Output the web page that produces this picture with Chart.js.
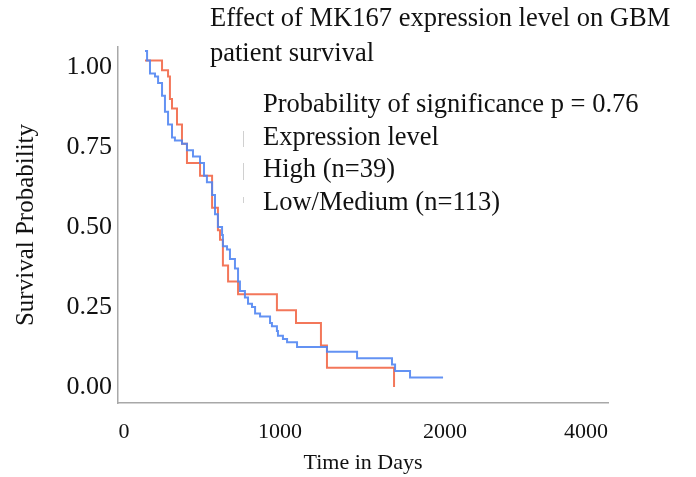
<!DOCTYPE html>
<html>
<head>
<meta charset="utf-8">
<script src="https://cdn.jsdelivr.net/npm/chart.js@4.4.1/dist/chart.umd.min.js"></script>
<style>
  body { margin: 0; background: #fff; }
  canvas { display: block; }
</style>
</head>
<body>
<canvas id="km-chart" width="696" height="477"></canvas>
<script>
// data (days, survival probability)
const highDays = [0, 99, 134, 145, 157, 186, 215, 244, 320, 390, 424, 436, 453, 483, 541, 767, 878, 1023, 1058, 1448];
const highSurv = [1.02, 0.99, 0.97, 0.90, 0.87, 0.82, 0.76, 0.70, 0.66, 0.56, 0.49, 0.46, 0.38, 0.33, 0.29, 0.24, 0.20, 0.13, 0.06, 0.00];

const lowDays = [0, 12, 29, 58, 76, 99, 116, 134, 157, 174, 215, 244, 279, 320, 343, 360, 390, 407, 424, 448,
  453, 477, 494, 523, 541, 552, 581, 599, 622, 640, 669, 727, 738, 767, 773, 802, 826, 884, 1058, 1233,
  1436, 1454, 1541, 1733];
const lowSurv = [1.05, 1.02, 0.98, 0.97, 0.95, 0.91, 0.86, 0.82, 0.78, 0.77, 0.76, 0.74, 0.72, 0.70, 0.66, 0.64, 0.60, 0.54, 0.50, 0.475,
  0.44, 0.43, 0.40, 0.37, 0.33, 0.30, 0.28, 0.26, 0.25, 0.23, 0.22, 0.20, 0.19, 0.175, 0.16, 0.15, 0.14, 0.125, 0.11, 0.09,
  0.07, 0.05, 0.03, 0.03];

const yTicks = [0, 0.25, 0.5, 0.75, 1.0];
const xTickLabels = ['0', '1000', '2000', '4000'];
const xTickAt = [-122, 785, 1744, 2564]; // where the printed labels sit, in days

const titleLines = ['Effect of MK167 expression level on GBM', 'patient survival'];
const legendLines = ['Probability of significance p = 0.76', 'Expression level', 'High (n=39)', 'Low/Medium (n=113)'];

const serif = '"Liberation Serif", "Times New Roman", serif';

function toPoints(xs, ys) {
  return xs.map((x, i) => ({ x: x, y: ys[i] }));
}

const textPlugin = {
  id: 'textBlock',
  afterDraw(chart) {
    const ctx = chart.ctx;
    ctx.save();
    ctx.fillStyle = '#111';
    ctx.textBaseline = 'middle';
    ctx.textAlign = 'left';
    ctx.font = '26.5px ' + serif;
    titleLines.forEach((t, i) => ctx.fillText(t, 210, 19 + i * 35));
    legendLines.forEach((t, i) => ctx.fillText(t, 263, 105 + i * 32.7));
    // faint legend key marks
    ctx.strokeStyle = '#d0d0d0';
    ctx.lineWidth = 1;
    [[131, 147], [163, 180], [197, 203]].forEach(([a, b]) => {
      ctx.beginPath();
      ctx.moveTo(243.5, a);
      ctx.lineTo(243.5, b);
      ctx.stroke();
    });
    ctx.restore();
  }
};

new Chart(document.getElementById('km-chart'), {
  type: 'line',
  data: {
    datasets: [
      {
        label: 'Low/Medium (n=113)',
        data: toPoints(lowDays, lowSurv),
        borderColor: 'rgba(82, 134, 242, 0.9)',
        borderWidth: 2,
        stepped: 'before',
        pointRadius: 0,
        fill: false
      },
      {
        label: 'High (n=39)',
        data: toPoints(highDays, highSurv),
        borderColor: 'rgba(242, 104, 72, 0.9)',
        borderWidth: 2,
        stepped: 'before',
        pointRadius: 0,
        fill: false
      }
    ]
  },
  options: {
    responsive: false,
    animation: false,
    layout: { padding: { left: 0, top: 47, right: 88, bottom: 0 } },
    plugins: {
      legend: { display: false },
      tooltip: { enabled: false }
    },
    scales: {
      x: {
        type: 'linear',
        min: -157,
        max: 2692,
        afterFit: (scale) => { scale.height = 74; },
        afterBuildTicks: (scale) => { scale.ticks = xTickAt.map(v => ({ value: v })); },
        grid: { display: false, drawTicks: false },
        border: { display: true, color: '#a8a8a8', width: 1.5 },
        ticks: {
          padding: 16,
          autoSkip: false,
          maxRotation: 0,
          color: '#111',
          font: { family: serif, size: 22 },
          callback: (value, index) => xTickLabels[index]
        },
        title: {
          display: true,
          text: 'Time in Days',
          color: '#111',
          font: { family: serif, size: 22 },
          padding: { top: 0, bottom: 1 }
        }
      },
      y: {
        type: 'linear',
        min: -0.05,
        max: 1.0625,
        afterFit: (scale) => { scale.width = 118; },
        afterBuildTicks: (scale) => { scale.ticks = yTicks.map(v => ({ value: v })); },
        grid: { display: false, drawTicks: false },
        border: { display: true, color: '#a8a8a8', width: 1.5 },
        ticks: {
          padding: 6,
          color: '#111',
          font: { family: serif, size: 26 },
          callback: (value) => value.toFixed(2)
        },
        title: {
          display: true,
          text: 'Survival Probability',
          color: '#111',
          font: { family: serif, size: 25 },
          padding: { top: 11, bottom: 0 }
        }
      }
    }
  },
  plugins: [textPlugin]
});
</script>
</body>
</html>
